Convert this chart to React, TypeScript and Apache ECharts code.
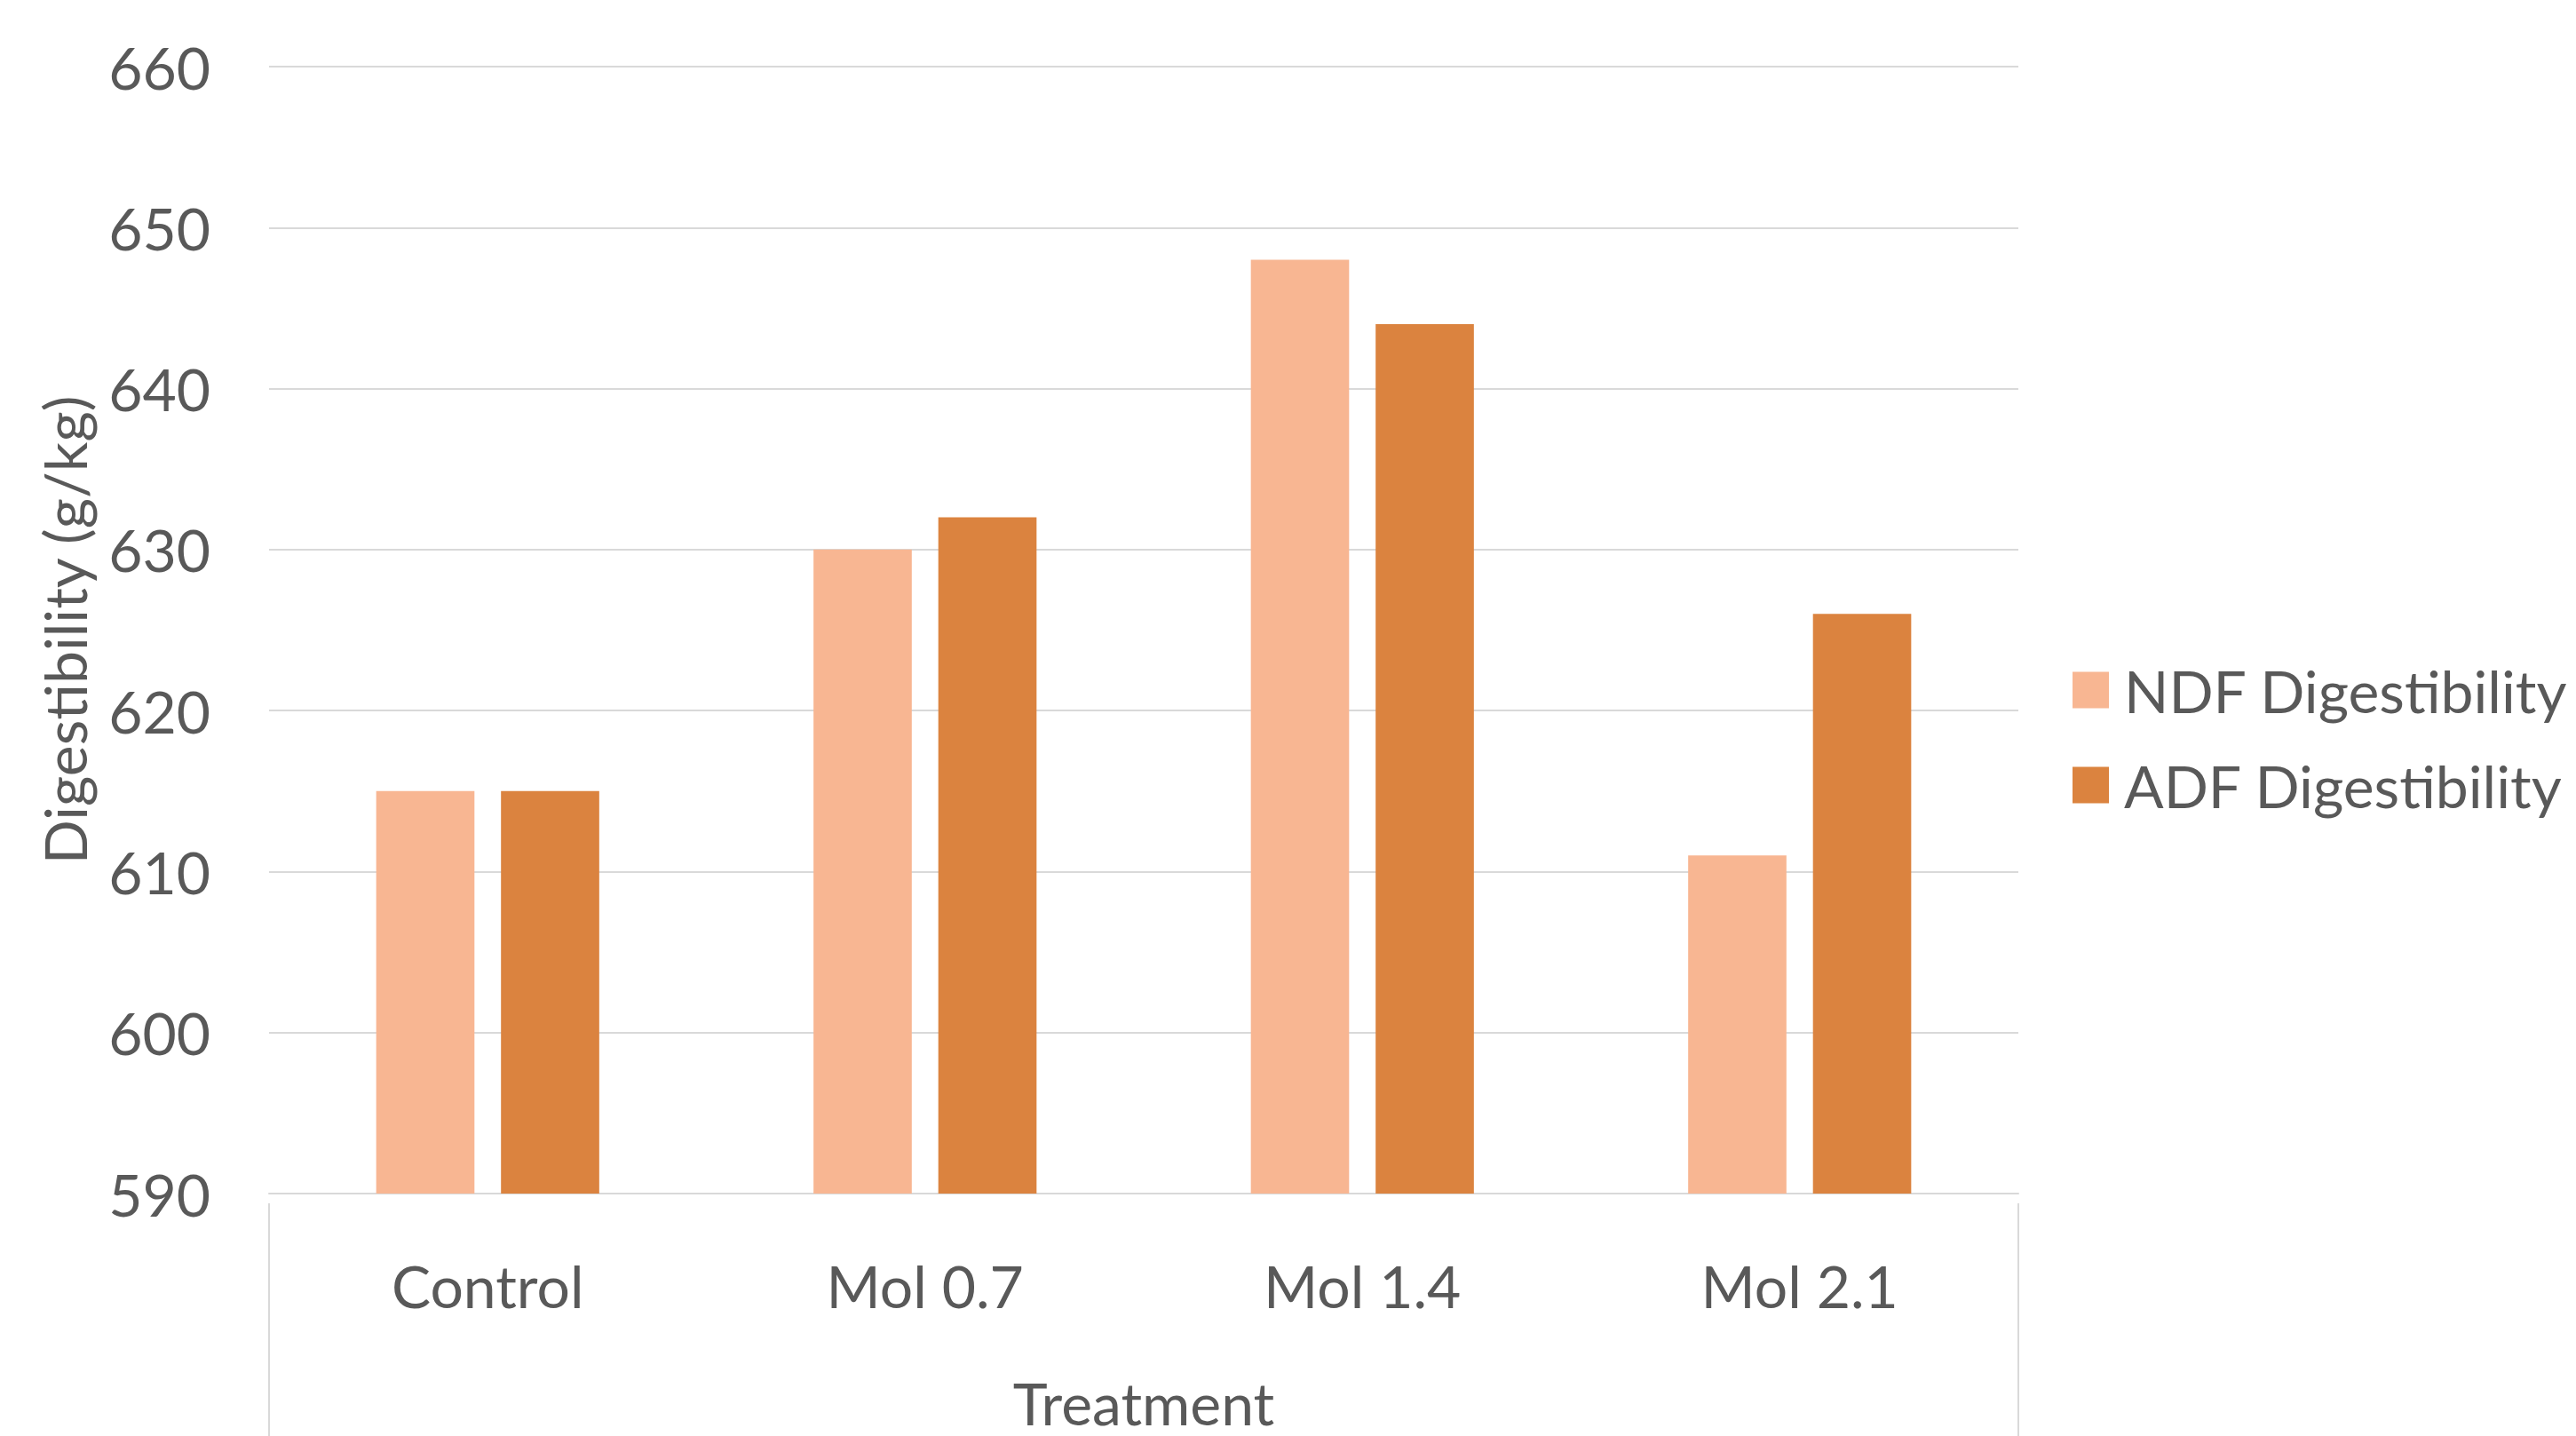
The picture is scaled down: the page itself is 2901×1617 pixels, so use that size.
import React, { useEffect, useRef } from "react";
import * as echarts from "echarts";

const categories = ["Control", "Mol 0.7", "Mol 1.4", "Mol 2.1"];
const ndfValues = [615, 630, 648, 611];
const adfValues = [615, 632, 644, 626];
const seriesNames = ["NDF Digestibility", "ADF Digestibility"];
const yMin = 590;
const yMax = 660;
const yInterval = 10;

const FONT = "Lato, 'Open Sans', sans-serif";
const TEXT = "#595959";
const GRID = "#D9D9D9";

export default function App() {
  const ref = useRef<HTMLDivElement>(null);
  useEffect(() => {
    if (!ref.current) return;
    const chart = echarts.init(ref.current, undefined, { renderer: "svg" });
    const H = 1617;
    const gLeft = 303;
    const gTop = 75;
    const gWidth = 1970;
    const gHeight = 1280;
    chart.setOption({
      animation: false,
      backgroundColor: "#FFFFFF",
      textStyle: { fontFamily: FONT },
      grid: { left: gLeft, top: gTop, width: gWidth, height: gHeight, containLabel: false },
      legend: {
        orient: "vertical",
        left: 2329,
        top: 739,
        itemWidth: 41,
        itemHeight: 41,
        itemGap: 41,
        icon: "rect",
        data: seriesNames,
        textStyle: { fontFamily: FONT, fontSize: 66, color: TEXT, lineHeight: 66, padding: [0, 0, 0, 12] },
      },
      xAxis: {
        type: "category",
        data: categories,
        name: "Treatment",
        nameLocation: "middle",
        nameGap: 202,
        nameTextStyle: { fontFamily: FONT, fontSize: 66, color: TEXT },
        axisLine: { show: true, lineStyle: { color: GRID, width: 2 } },
        axisTick: { show: false },
        axisLabel: { fontFamily: FONT, fontSize: 66, color: TEXT, margin: 70 },
      },
      yAxis: {
        type: "value",
        min: yMin,
        max: yMax,
        interval: yInterval,
        name: "Digestibility (g/kg)",
        nameLocation: "middle",
        nameRotate: 90,
        nameGap: 198,
        nameTextStyle: { fontFamily: FONT, fontSize: 66, color: TEXT },
        axisLine: { show: false },
        axisTick: { show: false },
        axisLabel: { fontFamily: FONT, fontSize: 66, color: TEXT, margin: 66 },
        splitLine: { show: true, lineStyle: { color: GRID, width: 2 } },
      },
      series: [
        {
          name: seriesNames[0],
          type: "bar",
          data: ndfValues,
          barGap: "27%",
          barCategoryGap: "49%",
          itemStyle: { color: "#F8B692" },
        },
        {
          name: seriesNames[1],
          type: "bar",
          data: adfValues,
          barGap: "27%",
          barCategoryGap: "49%",
          itemStyle: { color: "#DB833F" },
        },
      ],
      graphic: [
        {
          type: "line",
          shape: { x1: gLeft, y1: gTop + gHeight, x2: gLeft, y2: H },
          style: { stroke: GRID, lineWidth: 2 },
          silent: true,
        },
        {
          type: "line",
          shape: { x1: gLeft + gWidth, y1: gTop + gHeight, x2: gLeft + gWidth, y2: H },
          style: { stroke: GRID, lineWidth: 2 },
          silent: true,
        },
      ],
    });
    return () => chart.dispose();
  }, []);
  return (
    <div
      ref={ref}
      style={{ position: "fixed", left: 0, top: 0, width: 2901, height: 1617, background: "#fff" }}
    />
  );
}
